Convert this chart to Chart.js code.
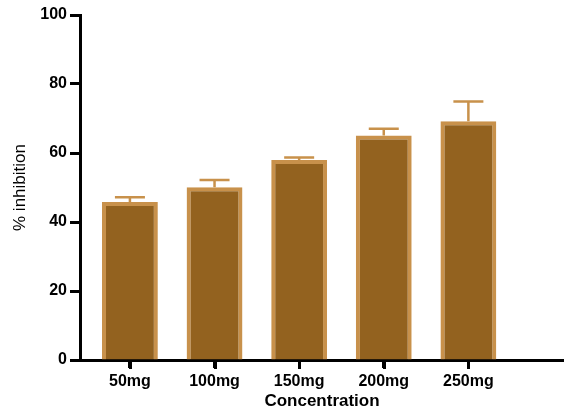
<!DOCTYPE html>
<html>
<head>
<meta charset="utf-8">
<script src="https://cdn.jsdelivr.net/npm/chart.js@4/dist/chart.umd.min.js"></script>
<style>
  body { margin: 0; background: #fff; }
  #wrap { width: 564px; height: 416px; }
</style>
</head>
<body>
<div id="wrap"><canvas id="inhibChart" width="564" height="416"></canvas></div>
<script>
// datos
const categories = ['50mg', '100mg', '150mg', '200mg', '250mg'];
const means = [45.8, 50.1, 58.0, 65.1, 69.2];
const errors = [1.4, 2.1, 0.7, 1.9, 5.7];
const yTicks = [0, 20, 40, 60, 80, 100];

const fillColor = '#93621F';
const edgeColor = '#C8914B';

// barras de error (solo hacia arriba) y marcas del eje x
const errorBars = {
    id: 'errorBars',
    afterDatasetsDraw(chart) {
        const ctx = chart.ctx;
        const meta = chart.getDatasetMeta(0);
        const yScale = chart.scales.y;
        ctx.save();
        ctx.strokeStyle = edgeColor;
        ctx.lineWidth = 2.5;
        meta.data.forEach((bar, i) => {
            const top = yScale.getPixelForValue(means[i] + errors[i]);
            ctx.beginPath();
            ctx.moveTo(bar.x, bar.y);
            ctx.lineTo(bar.x, top);
            ctx.moveTo(bar.x - 15, top);
            ctx.lineTo(bar.x + 15, top);
            ctx.stroke();
        });
        const y0 = yScale.getPixelForValue(0);
        ctx.strokeStyle = '#000';
        ctx.lineWidth = 3;
        meta.data.forEach((bar) => {
            const x = Math.round(bar.x) + 0.5;
            ctx.beginPath();
            ctx.moveTo(x, y0);
            ctx.lineTo(x, y0 + 9);
            ctx.stroke();
        });
        ctx.restore();
    }
};

const ctx = document.getElementById('inhibChart').getContext('2d');
const chart = new Chart(ctx, {
    type: 'bar',
    data: {
        datasets: [{
            data: means.map((v, i) => ({ x: i, y: v })),
            backgroundColor: fillColor,
            borderColor: edgeColor,
            borderWidth: 4,
            borderSkipped: 'bottom',
            categoryPercentage: 1,
            barPercentage: 0.66
        }]
    },
    options: {
        responsive: false,
        animation: false,
        layout: { padding: { top: 15, right: 0, left: 0, bottom: 0 } },
        plugins: {
            legend: { display: false },
            tooltip: { enabled: false }
        },
        scales: {
            x: {
                type: 'linear',
                offset: false,
                min: -0.59,
                max: 5.13,
                afterBuildTicks: (scale) => {
                    scale.ticks = categories.map((c, i) => ({ value: i }));
                },
                afterFit: (scale) => { scale.height = 56; },
                ticks: {
                    callback: (v) => categories[v],
                    color: '#000',
                    font: { family: 'Liberation Sans', size: 16, weight: 'bold' },
                    padding: 4,
                    maxRotation: 0
                },
                grid: {
                    offset: false,
                    drawOnChartArea: false,
                    drawTicks: true,
                    tickLength: 8,
                    tickWidth: 3,
                    tickColor: '#000'
                },
                border: { color: '#000', width: 3 },
                title: {
                    display: true,
                    text: 'Concentration',
                    color: '#000',
                    font: { family: 'Liberation Sans', size: 17, weight: 'bold' },
                    padding: { top: 8 }
                }
            },
            y: {
                min: 0,
                max: 100,
                afterBuildTicks: (scale) => {
                    scale.ticks = yTicks.map(v => ({ value: v }));
                },
                afterFit: (scale) => { scale.width = 80; },
                ticks: {
                    color: '#000',
                    font: { family: 'Liberation Sans', size: 16, weight: 'bold' },
                    padding: 3
                },
                grid: {
                    drawOnChartArea: false,
                    drawTicks: true,
                    tickLength: 10,
                    tickWidth: 3,
                    tickColor: '#000'
                },
                border: { color: '#000', width: 3 },
                title: {
                    display: true,
                    text: '% inhibition',
                    color: '#000',
                    font: { family: 'Liberation Sans', size: 17 },
                    padding: { top: 10, bottom: 0 }
                }
            }
        }
    },
    plugins: [errorBars]
});
</script>
</body>
</html>
